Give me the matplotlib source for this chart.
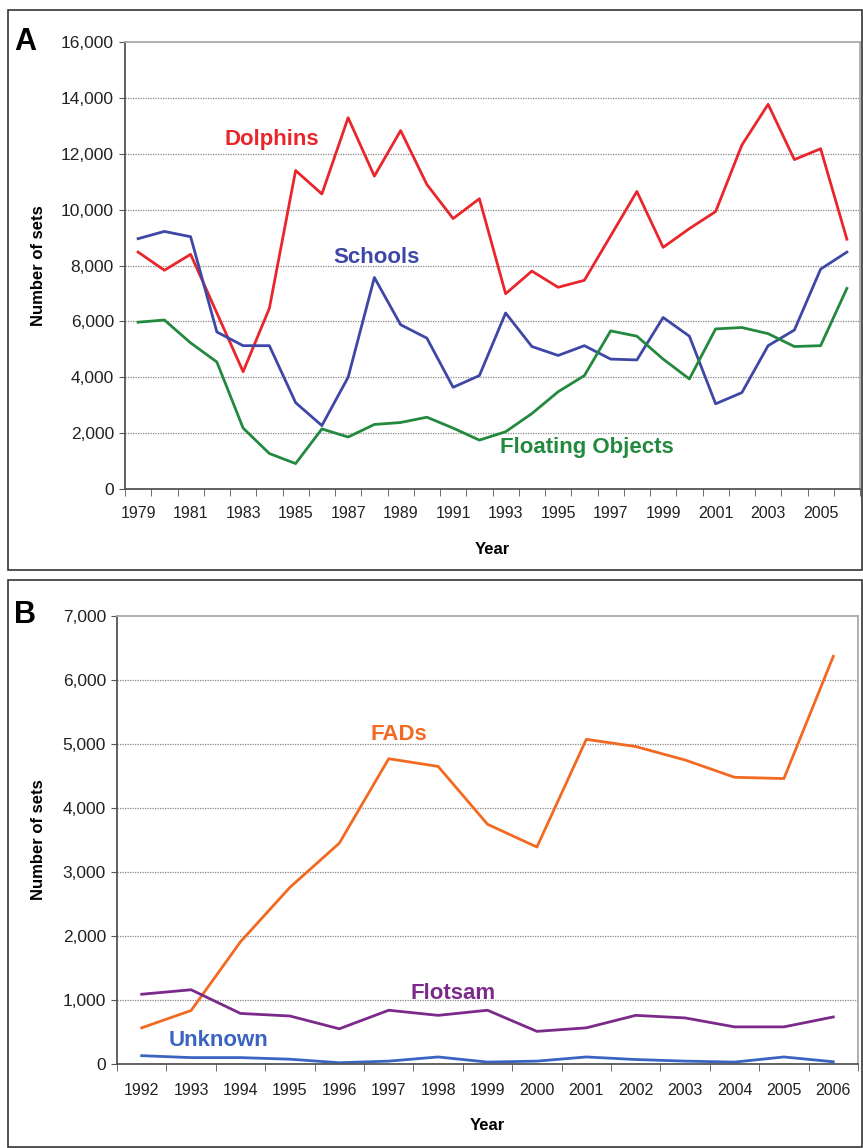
import matplotlib.pyplot as plt
from matplotlib.patches import Rectangle
import numpy as np

plt.rcParams['font.family'] = ['Liberation Sans', 'DejaVu Sans']

# Panel A data
years_a = list(range(1979, 2007))
dolphins = [8480, 7830, 8400, 6300, 4200, 6470, 11400, 10560, 13290, 11200,
            12830, 10900, 9680, 10390, 6990, 7800, 7220, 7470, 9060, 10650,
            8650, 9320, 9930, 12310, 13770, 11790, 12180, 8940]
schools = [8960, 9220, 9030, 5620, 5130, 5130, 3090, 2270, 4000, 7570,
           5880, 5400, 3640, 4060, 6300, 5100, 4780, 5130, 4650, 4620,
           6140, 5470, 3050, 3450, 5130, 5690, 7870, 8480]
floating = [5970, 6050, 5230, 4545, 2180, 1270, 910, 2150, 1860, 2310,
            2380, 2570, 2180, 1750, 2050, 2700, 3480, 4060, 5660, 5470,
            4650, 3940, 5730, 5780, 5560, 5100, 5130, 7180]

# Panel B data
years_b = list(range(1992, 2007))
fads = [565, 836, 1910, 2760, 3450, 4770, 4650, 3746, 3390, 5073,
        4960, 4750, 4480, 4460, 6370]
flotsam = [1090, 1160, 790, 750, 550, 840, 760, 840, 510, 565,
           760, 720, 580, 580, 735]
unknown = [130, 100, 100, 75, 20, 45, 110, 30, 45, 110,
           70, 45, 30, 110, 35]

W, H = 863, 1148
fig = plt.figure(figsize=(W / 100, H / 100), dpi=100)

# panel frames
for y0, y1 in [(10, 570), (580, 1147)]:
    fig.patches.append(Rectangle((8 / W, 1 - y1 / H), (862 - 8) / W, (y1 - y0) / H,
                                 transform=fig.transFigure, fill=False,
                                 edgecolor='#333333', lw=1.2))


def style_axes(ax, n, ymax, step, labels, xpad, ypad_label):
    x = np.arange(n)
    ax.set_xlim(-0.5, n - 0.5)
    ax.set_ylim(0, ymax)
    ax.set_yticks(np.arange(0, ymax + 1, step))
    ax.set_yticklabels([f'{v:,}' for v in range(0, ymax + 1, step)], fontsize=12.5, color='#222222')
    ax.set_xticks(x)
    ax.set_xticklabels(labels, fontsize=11.5, color='#222222')
    ax.set_xticks(np.arange(-0.5, n, 1), minor=True)
    ax.tick_params(axis='x', which='major', length=0, pad=xpad)
    ax.tick_params(axis='x', which='minor', length=5, color='#555555')
    ax.tick_params(axis='y', length=4, color='#555555', pad=4)
    for v in range(step, ymax, step):
        ax.axhline(v, color='#888888', lw=0.9, ls=(0, (1, 1)), zorder=0)
    for s in ['left', 'bottom']:
        ax.spines[s].set_color('#555555')
        ax.spines[s].set_linewidth(1.3)
    for s in ['top', 'right']:
        ax.spines[s].set_color('#aaaaaa')
        ax.spines[s].set_linewidth(1.3)
    ax.set_ylabel('Number of sets', fontsize=12, fontweight='bold')
    ax.set_xlabel('Year', fontsize=12, fontweight='bold', labelpad=ypad_label)


# Panel A
axA = fig.add_axes([125 / W, 1 - 489 / H, (860 - 125) / W, (489 - 42) / H])
xa = np.arange(len(years_a))
axA.plot(xa, dolphins, color='#e8262b', lw=2)
axA.plot(xa, schools, color='#3f47a6', lw=2)
axA.plot(xa, floating, color='#23893e', lw=2)
labels_a = [str(y) if (y - 1979) % 2 == 0 else '' for y in years_a]
style_axes(axA, len(years_a), 16000, 2000, labels_a, 12, 15)
axA.yaxis.set_label_coords(-0.1075, 0.5)
axA.text(5.1, 12500, 'Dolphins', color='#e8262b', fontsize=16, fontweight='bold', ha='center', va='center')
axA.text(9.1, 8300, 'Schools', color='#3f47a6', fontsize=16, fontweight='bold', ha='center', va='center')
axA.text(17.1, 1500, 'Floating Objects', color='#23893e', fontsize=16, fontweight='bold', ha='center', va='center')
fig.text(14 / W, 1 - 42 / H, 'A', fontsize=22, fontweight='bold', ha='left', va='center')

# Panel B
axB = fig.add_axes([117 / W, 1 - 1064 / H, (858 - 117) / W, (1064 - 616) / H])
xb = np.arange(len(years_b))
axB.plot(xb, fads, color='#f26a21', lw=2)
axB.plot(xb, flotsam, color='#7b2a8a', lw=2)
axB.plot(xb, unknown, color='#3b64c0', lw=2)
style_axes(axB, len(years_b), 7000, 1000, [str(y) for y in years_b], 14, 14)
axB.yaxis.set_label_coords(-0.096, 0.5)
axB.text(5.2, 5150, 'FADs', color='#f26a21', fontsize=16, fontweight='bold', ha='center', va='center')
axB.text(6.3, 1100, 'Flotsam', color='#7b2a8a', fontsize=16, fontweight='bold', ha='center', va='center')
axB.text(1.55, 375, 'Unknown', color='#3b64c0', fontsize=16, fontweight='bold', ha='center', va='center')
fig.text(14 / W, 1 - 615 / H, 'B', fontsize=22, fontweight='bold', ha='left', va='center')

fig.savefig('out.png', dpi=100, facecolor='white')
